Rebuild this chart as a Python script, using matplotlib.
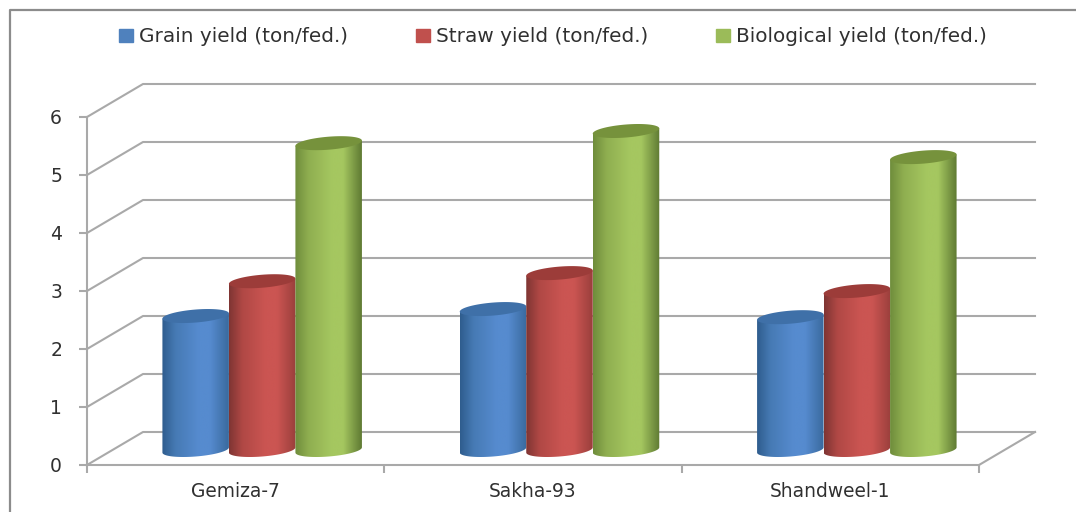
import numpy as np
import matplotlib
matplotlib.use("Agg")
import matplotlib.pyplot as plt
from matplotlib.patches import Patch, Polygon
from matplotlib.colors import LinearSegmentedColormap
from matplotlib.lines import Line2D

# --- data ---
varietes = ["Gemiza-7", "Sakha-93", "Shandweel-1"]
grain = [2.31, 2.43, 2.29]
paille = [2.91, 3.05, 2.74]
biologique = [5.29, 5.50, 5.05]
noms = ["Grain yield (ton/fed.)", "Straw yield (ton/fed.)", "Biological yield (ton/fed.)"]

# --- styles ---
W, H = 1076, 512
x0, x1, y0, y1 = 87, 979, 465, 117  # plot box in pixels
gris = "#a9a9a9"
texte = "#303030"
plt.rcParams["font.family"] = ["DejaVu Sans"]

fig = plt.figure(figsize=(W / 100, H / 100), dpi=100)
ax = fig.add_axes([x0 / W, 1 - y0 / H, (x1 - x0) / W, (y0 - y1) / H])
ax.set_facecolor("none")

px_x = (x1 - x0) / 3
px_y = (y0 - y1) / 6
prof_x = 56 / px_x  # depth of the 3D box
prof_y = 33 / px_y
larg = 66.5 / px_x  # bar width
demi_h = 6.5 / px_y  # ellipse half height
tilt = 2.6 / px_y   # ellipse tilt, rises to the right
base = 15 / px_y
decal = 26.5 / px_x  # bars sit mid-depth


def degrade(c0, c1, c2, c3):
    return LinearSegmentedColormap.from_list(
        "d", [(0, c0), (0.2, c1), (0.55, c2), (0.72, c2), (1, c3)])


def cylindre(xc, val, cmap, c_haut, z):
    haut = base + val
    t = np.linspace(0, 2 * np.pi, 100)
    ex = np.cos(t) * larg / 2
    ey = np.sin(t) * demi_h + np.cos(t) * tilt
    # body: lower half of base ellipse, closed through the top ellipse ends
    bas = np.linspace(np.pi, 2 * np.pi, 50)
    bx = xc + np.cos(bas) * larg / 2
    by = base + np.sin(bas) * demi_h + np.cos(bas) * tilt
    hx = [xc + larg / 2, xc - larg / 2]
    hy = [haut + tilt, haut - tilt]
    contour = np.column_stack([np.r_[bx, hx], np.r_[by, hy]])
    grad = np.linspace(0, 1, 200).reshape(1, -1)
    im = ax.imshow(grad, cmap=cmap, aspect="auto", zorder=z, clip_on=True,
                   extent=[xc - larg / 2, xc + larg / 2, base - demi_h - tilt, haut + demi_h + tilt])
    im.set_clip_path(Polygon(contour, closed=True, transform=ax.transData))
    ax.fill(xc + ex, haut + ey, color=c_haut, lw=0, zorder=z + 0.5, clip_on=False)


# --- box: back wall and floor ---
for v in range(7):
    ax.plot([0, prof_x, 3 + prof_x], [v, v + prof_y, v + prof_y], color=gris, lw=1.5, clip_on=False, zorder=1)
ax.plot([3, 3 + prof_x], [0, prof_y], color=gris, lw=1.5, clip_on=False, zorder=1)

# --- cylinders ---
series = [
    (grain, degrade("#2f5d8e", "#467ab4", "#568bcf", "#3a6a9e"), "#3f70a8"),
    (paille, degrade("#7f3533", "#b04845", "#cb5552", "#9a3f3c"), "#9c3c39"),
    (biologique, degrade("#6f8d3c", "#8fae50", "#a5c760", "#5f7a33"), "#76923c"),
]
z = 3
for i in range(3):
    centre = i + 0.5 + decal
    for j, (vals, cmap, c_haut) in enumerate(series):
        cylindre(centre + (j - 1) * larg, vals[i], cmap, c_haut, z)
        z += 1

ax.set_xlim(0, 3)
ax.set_ylim(0, 6)

# --- axes ---
for s in ["top", "right"]:
    ax.spines[s].set_visible(False)
for s in ["left", "bottom"]:
    ax.spines[s].set_color(gris)
    ax.spines[s].set_linewidth(1.5)
ax.set_yticks(range(7))
ax.set_xticks([0, 1, 2, 3])
ax.set_xticklabels([])
ax.set_xticks([0.5, 1.5, 2.5], labels=varietes, minor=True)
ax.tick_params(axis="y", length=6, width=1.5, color=gris, labelsize=13.5, labelcolor=texte, pad=12)
ax.tick_params(axis="x", which="major", length=6, width=1.5, color=gris)
ax.tick_params(axis="x", which="minor", length=0, labelsize=13.4, labelcolor=texte, pad=12)

# --- legend ---
poignees = [Patch(color=c) for c in ["#4f81bd", "#c0504d", "#9bbb59"]]
fig.legend(poignees, noms, ncol=3, frameon=False, loc="center", bbox_to_anchor=(553 / W, 1 - 37 / H),
           fontsize=14.45, labelcolor=texte, handlelength=0.73, handleheight=0.65, handletextpad=0.3,
           columnspacing=3.35)

# --- outer frame, open on the right and the bottom ---
fig.add_artist(Line2D([9.5 / W, 9.5 / W, 1], [0, 1 - 10 / H, 1 - 10 / H], color="#8c8c8c", lw=1.6))

fig.savefig("out.png", dpi=100)
